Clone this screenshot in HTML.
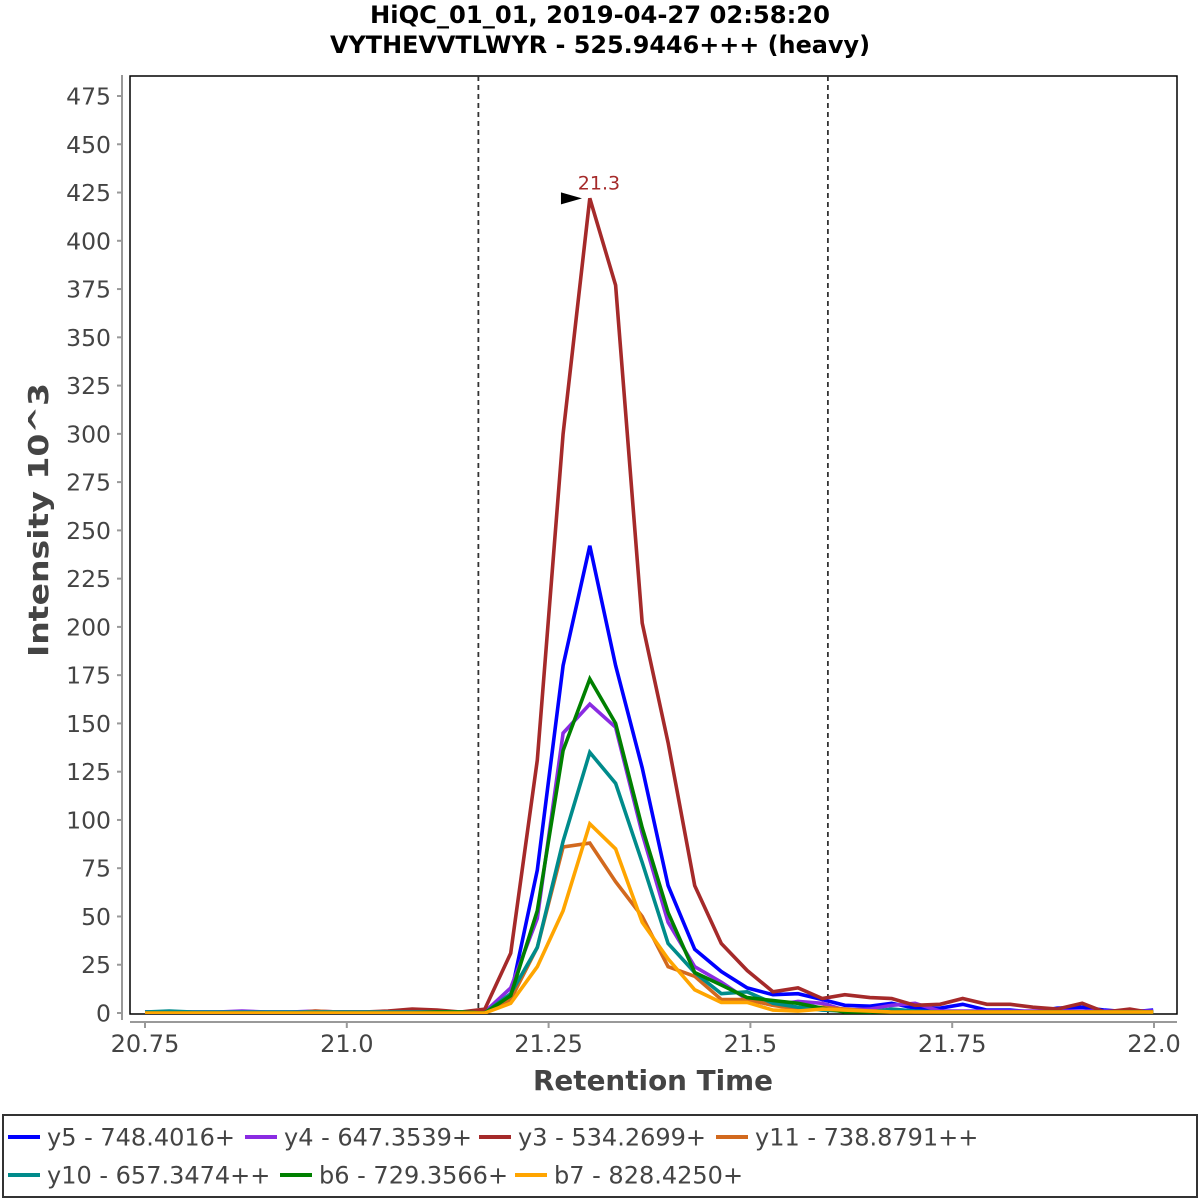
<!DOCTYPE html>
<html><head><meta charset="utf-8"><style>
html,body{margin:0;padding:0;background:#fff;width:1200px;height:1200px;overflow:hidden}
svg text{font-family:"DejaVu Sans","Liberation Sans",sans-serif}
</style></head><body>
<svg id="chart" width="1200" height="1200" viewBox="0 0 1200 1200" xmlns="http://www.w3.org/2000/svg">
<text x="600" y="23" text-anchor="middle" font-size="24" font-weight="bold" textLength="460" lengthAdjust="spacingAndGlyphs">HiQC_01_01, 2019-04-27 02:58:20</text>
<text x="600" y="53" text-anchor="middle" font-size="24" font-weight="bold" textLength="540" lengthAdjust="spacingAndGlyphs">VYTHEVVTLWYR - 525.9446+++ (heavy)</text>
<rect x="130" y="76" width="1047" height="938" fill="#fff" stroke="#000" stroke-width="1.5"/>
<line x1="122" y1="75" x2="122" y2="1020" stroke="#999" stroke-width="2"/>
<line x1="130" y1="1022" x2="1177" y2="1022" stroke="#999" stroke-width="2"/>
<g id="yticks"></g><g id="xticks"></g>
<g id="series" clip-path="url(#clip)"></g>
<defs><clipPath id="clip"><rect x="130" y="76" width="1047" height="938"/></clipPath></defs>
<text x="653" y="1090" text-anchor="middle" font-size="28" font-weight="bold" fill="#444" textLength="240" lengthAdjust="spacingAndGlyphs">Retention Time</text>
<text transform="translate(48,520) rotate(-90)" text-anchor="middle" font-size="28" font-weight="bold" fill="#444" textLength="274" lengthAdjust="spacingAndGlyphs">Intensity 10^3</text>
<rect x="3" y="1115" width="1194" height="82" fill="#fff" stroke="#333" stroke-width="2"/>
<g id="legend"></g>
</svg>
<script>
const times=[20.750,20.780,20.809,20.840,20.870,20.900,20.931,20.961,20.990,21.021,21.051,21.081,21.112,21.141,21.171,21.203,21.236,21.268,21.301,21.333,21.366,21.398,21.431,21.464,21.496,21.528,21.559,21.589,21.617,21.648,21.675,21.704,21.735,21.763,21.793,21.822,21.850,21.880,21.911,21.939,21.970,21.999];
const y5=[0.5,0.5,0.5,0.5,0.5,0.5,0.5,0.5,0.5,0.5,0.5,0.5,0.5,0.5,0,9,74,180,242,180,127,66,33,21.5,13,9.5,10,7,4,3.5,5,2.5,2.5,4.5,1.5,1.5,0.5,2.5,3,1.5,0.5,1.5];
const y4=[0.5,0.5,0.5,0.5,1,0.5,0.5,1,0.5,0.5,0.5,0.5,0.5,0.5,0.5,13,49,145,160,148,93,47,24,16,7,4,6,5,1.5,2,4,5,1,1,1,1,1,1,1,1,1,1];
const y3=[0,0,0,0,0,0,0,0.5,0.5,0.5,1,2,1.5,0.5,2,31,131,300,422,377,202,140,66,36,22,11,13,7.5,9.5,8,7.5,4,4.5,7.5,4.5,4.5,3,2,5,0.5,2,0];
const y11=[0,0,0,0,0,0,0,1,0.5,0.5,0.5,0.5,0.5,0.5,0,7,34,86,88,68,50,24,19,7,7,4,2,3,2,1,1,0.5,0.5,0.5,0.5,0.5,0.5,0.5,0.5,0.5,0.5,0.5];
const y10=[0.5,1,0.5,0.5,0.5,0.5,0.5,0.5,0.5,0.5,0.5,0.5,0.5,0.5,0,10,34,89,135,119,78,36,21,10,11,5,3,1.5,1,0.5,2,1,0.5,0.5,0.5,0.5,0.5,0.5,0.5,0.5,0.5,0.5];
const b6=[0,0,0,0,0,0,0,0,0,0,0,0,0.5,0.5,0,9,53,136,173,150,96,52,21,14.5,8,6.5,5,2.5,0.5,0.5,0.5,0.5,0.5,0.5,0.5,0.5,0.5,0.5,0.5,0.5,0.5,0.5];
const b7=[0,0,0,0,0,0,0,0,0,0,0,0,0,0,0,5,24,53,98,85,47,28,12,5.5,5.5,1.5,1,2,1.5,1,0.5,0.5,0.5,0.5,0.5,0.5,0.5,0.5,0.5,0.5,0.5,0.5];
const yTicks=[0,25,50,75,100,125,150,175,200,225,250,275,300,325,350,375,400,425,450,475];
const xTicks=[20.75,21.0,21.25,21.5,21.75,22.0];
const xTickLabels=["20.75","21.0","21.25","21.5","21.75","22.0"];
const boundaries=[21.163,21.596];
const peakTime=21.3, peakValue=422;
const seriesNames=["y5 - 748.4016+","y4 - 647.3539+","y3 - 534.2699+","y11 - 738.8791++","y10 - 657.3474++","b6 - 729.3566+","b7 - 828.4250+"];
const seriesData=[y5,y4,y3,y11,y10,b6,b7];
const colors=["#0000FF","#8A2BE2","#A52A2A","#D2691E","#008B8B","#008000","#FFA500"];
const NS="http://www.w3.org/2000/svg";
const X=t=>145+(t-20.75)*807.2;
const Y=v=>1013-v*1.9305;
function mk(tag,attrs,parent,txt){const e=document.createElementNS(NS,tag);for(const k in attrs)e.setAttribute(k,attrs[k]);if(txt!=null)e.textContent=txt;parent.appendChild(e);return e;}
const yt=document.getElementById('yticks');
yTicks.forEach(v=>{
  const l=mk('line',{x1:117,x2:122,y1:Y(v),y2:Y(v),stroke:'#999','stroke-width':2},yt);
  
  
  const t=mk('text',{x:111,y:Y(v)+8.5,'text-anchor':'end','font-size':23.5,fill:'#444'},yt,String(v));
  
  
});
const xt=document.getElementById('xticks');
xTicks.forEach((v,i)=>{
  const l=mk('line',{x1:X(v),x2:X(v),y1:1022,y2:1028,stroke:'#999','stroke-width':2},xt);
  
  
  const t=mk('text',{x:X(v),y:1052,'text-anchor':'middle','font-size':24,fill:'#444'},xt,xTickLabels[i]);
  
  
});
const sg=document.getElementById('series');
boundaries.forEach(b=>{
  const l=mk('line',{x1:X(b),x2:X(b),y1:76,y2:1014,stroke:'#333','stroke-width':1.8,'stroke-dasharray':'5,4'},sg);
  
  
});
seriesData.forEach((d,si)=>{
  const pts=d.map((v,i)=>X(times[i]).toFixed(1)+','+Y(v).toFixed(1)).join(' ');
  const p=mk('polyline',{points:pts,fill:'none',stroke:colors[si],'stroke-width':3.6,'stroke-linejoin':'miter'},sg);
  
  
});
const px=X(peakTime),py=Y(peakValue);
const ar=mk('polygon',{points:`${px-28},${py-6} ${px-7},${py} ${px-28},${py+6}`,fill:'#000'},document.getElementById('chart'));


const pl=mk('text',{x:px+10,y:py-9,'text-anchor':'middle','font-size':19,fill:'#A52A2A'},document.getElementById('chart'),'21.3');


const lg=document.getElementById('legend');
const legPos=[[8,1137],[245,1137],[479,1137],[716,1137],[8,1175],[280,1175],[515,1175]];
seriesNames.forEach((n,i)=>{
  const [lx,ly]=legPos[i];
  const l=mk('line',{x1:lx,x2:lx+32,y1:ly,y2:ly,stroke:colors[i],'stroke-width':4},lg);
  
  
  const t=mk('text',{x:lx+39,y:ly+8.5,'font-size':24,fill:'#444'},lg,n);
  
  
});
</script>
</body></html>
